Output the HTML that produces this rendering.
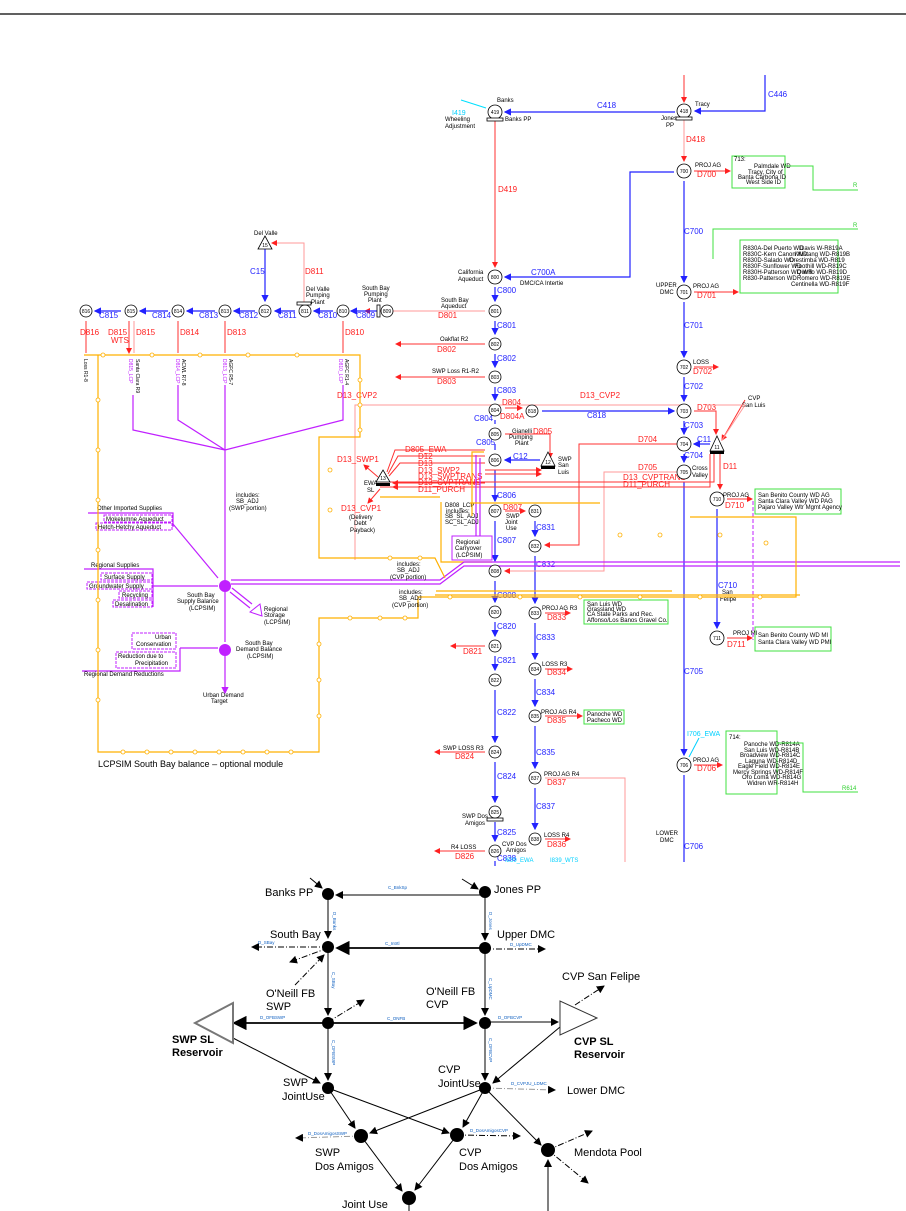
<!DOCTYPE html>
<html><head><meta charset="utf-8"><style>
body{margin:0;background:#fff}
svg{display:block;font-family:"Liberation Sans",sans-serif}
.b{stroke:#2222ff;fill:none;stroke-width:1.2}
.r{stroke:#ff3030;fill:none;stroke-width:1}
.p{stroke:#ff9a9a;fill:none;stroke-width:1}
.o{stroke:#ffb000;fill:none;stroke-width:1.2}
.m{stroke:#c020ff;fill:none;stroke-width:1.2}
.g{stroke:#40e040;fill:none;stroke-width:1}
.k{stroke:#000;fill:none;stroke-width:1.2}
.n{fill:#fff;stroke:#000;stroke-width:.8}
.nt{font-size:5px;text-anchor:middle}
.tb{fill:#2222ff;font-size:8px}
.tr{fill:#ff2020;font-size:8px}
.tk{fill:#000;font-size:6px}
.tg{fill:#30d030;font-size:5px}
.bl{fill:#1060c0;font-size:4.5px}
.big{fill:#000;font-size:11px}
</style></head><body>
<svg width="906" height="1211" viewBox="0 0 906 1211" xmlns="http://www.w3.org/2000/svg">
<defs>
<marker id="ab" markerWidth="6" markerHeight="6" refX="5" refY="3" orient="auto"><path d="M0,0L6,3L0,6z" fill="#2222ff"/></marker>
<marker id="ar" markerWidth="6" markerHeight="6" refX="5" refY="3" orient="auto"><path d="M0,0L6,3L0,6z" fill="#ff2020"/></marker>
<marker id="am" markerWidth="6" markerHeight="6" refX="5" refY="3" orient="auto"><path d="M0,0L6,3L0,6z" fill="#c020ff"/></marker>
<marker id="ak" markerWidth="8" markerHeight="8" refX="7" refY="4" orient="auto"><path d="M0,0L8,4L0,8z" fill="#000"/></marker>
</defs>
<line x1="0" y1="14" x2="906" y2="14" stroke="#000" stroke-width="1.2"/>

<!-- top section -->
<line class="r" x1="684" y1="75" x2="684" y2="102" marker-end="url(#ar)"/>
<path class="b" d="M765,75V111H695" marker-end="url(#ab)"/>
<text class="tb" x="768" y="97">C446</text>
<line class="b" x1="675" y1="112" x2="505" y2="112" marker-end="url(#ab)"/>
<text class="tb" x="597" y="108">C418</text>
<line x1="461" y1="100" x2="486" y2="108" stroke="#00e0ff"/>
<text x="452" y="115" fill="#00d0ff" font-size="7">I419</text>
<text class="tk" x="445" y="121">Wheeling</text><text class="tk" x="445" y="128">Adjustment</text>
<text class="tk" x="497" y="102">Banks</text><text class="tk" x="505" y="121">Banks PP</text>
<text class="tk" x="695" y="106">Tracy</text><text class="tk" x="661" y="120">Jones</text><text class="tk" x="666" y="127">PP</text>
<line class="r" x1="495" y1="120" x2="495" y2="267" marker-end="url(#ar)"/>
<text class="tr" x="498" y="192">D419</text>
<line class="p" x1="684" y1="120" x2="684" y2="161" marker-end="url(#ar)"/>
<text class="tr" x="686" y="142" font-size="6">D418</text>
<path class="b" d="M674,172H630V277H505" marker-end="url(#ab)"/>
<text class="tb" x="531" y="275">C700A</text>
<text class="tk" x="520" y="285">DMC/CA Intertie</text>
<text class="tk" x="458" y="274">California</text><text class="tk" x="458" y="281">Aqueduct</text>
<!-- main DMC -->
<line class="b" x1="684" y1="181" x2="684" y2="282" marker-end="url(#ab)"/>
<text class="tb" x="684" y="234">C700</text>
<line class="b" x1="684" y1="302" x2="684" y2="357" marker-end="url(#ab)"/>
<text class="tb" x="684" y="328">C701</text>
<line class="b" x1="684" y1="377" x2="684" y2="401" marker-end="url(#ab)"/>
<text class="tb" x="684" y="389">C702</text>
<line class="b" x1="684" y1="421" x2="684" y2="434" marker-end="url(#ab)"/>
<text class="tb" x="684" y="428">C703</text>
<line class="b" x1="684" y1="454" x2="684" y2="462" marker-end="url(#ab)"/>
<text class="tb" x="684" y="458">C704</text>
<line class="b" x1="684" y1="482" x2="684" y2="755" marker-end="url(#ab)"/>
<text class="tb" x="684" y="674">C705</text>
<line class="b" x1="684" y1="775" x2="684" y2="862"/>
<text class="tb" x="684" y="849">C706</text>
<text class="tk" x="656" y="835">LOWER</text><text class="tk" x="660" y="842">DMC</text>
<line class="r" x1="694" y1="171" x2="730" y2="171" marker-end="url(#ar)"/>
<text class="tk" x="695" y="167">PROJ AG</text><text class="tr" x="697" y="177">D700</text>
<line class="r" x1="694" y1="292" x2="738" y2="292" marker-end="url(#ar)"/>
<text class="tk" x="693" y="288">PROJ AG</text><text class="tr" x="697" y="298">D701</text>
<text class="tk" x="656" y="287">UPPER</text><text class="tk" x="660" y="294">DMC</text>
<line class="r" x1="694" y1="367" x2="718" y2="367" marker-end="url(#ar)"/>
<text class="tk" x="693" y="364">LOSS</text><text class="tr" x="693" y="374">D702</text>
<!-- green boxes -->
<rect class="g" x="732" y="156" width="53" height="32"/>
<text class="tk" x="734" y="161">713:</text>
<text class="tk" x="754" y="168" font-size="4.5">Palmdale WD</text><text class="tk" x="748" y="174" font-size="4.5">Tracy, City of</text><text class="tk" x="738" y="179" font-size="4.5">Banta Carbona ID</text><text class="tk" x="746" y="184" font-size="4.5">West Side ID</text>
<path class="g" d="M785,166H813V190H858"/><text x="853" y="187" fill="#30d030" font-size="6">R</text>
<path class="g" d="M713,259V229H858"/><text x="853" y="227" fill="#30d030" font-size="6">R</text>
<rect class="g" x="740" y="240" width="98" height="53"/>
<text class="tk" x="743" y="250" font-size="4.5">R830A-Del Puerto WD</text><text class="tk" x="743" y="256" font-size="4.5">R830C-Kern Canon WD</text><text class="tk" x="743" y="262" font-size="4.5">R830D-Salado WD</text><text class="tk" x="743" y="268" font-size="4.5">R830F-Sunflower WD</text><text class="tk" x="743" y="274" font-size="4.5">R830H-Patterson WD WR</text><text class="tk" x="743" y="280" font-size="4.5">R830-Patterson WD</text>
<text class="tk" x="800" y="250" font-size="4.5">Davis W-R819A</text><text class="tk" x="795" y="256" font-size="4.5">Mustang WD-R819B</text><text class="tk" x="789" y="262" font-size="4.5">Orestimba WD-R819</text><text class="tk" x="795" y="268" font-size="4.5">Foothill WD-R819C</text><text class="tk" x="797" y="274" font-size="4.5">Quinto WD-R819D</text><text class="tk" x="797" y="280" font-size="4.5">Romero WD-R819E</text><text class="tk" x="791" y="286" font-size="4.5">Centinella WD-R819F</text>
<rect class="g" x="755" y="489" width="86" height="25"/>
<text class="tk" x="758" y="497" font-size="4.5">San Benito County WD AG</text><text class="tk" x="758" y="503" font-size="4.5">Santa Clara Valley WD PAG</text><text class="tk" x="758" y="509" font-size="4.5">Pajaro Valley Wtr Mgmt Agency</text>
<rect class="g" x="755" y="627" width="76" height="24"/>
<text class="tk" x="758" y="637" font-size="4.5">San Benito County WD MI</text><text class="tk" x="758" y="644" font-size="4.5">Santa Clara Valley WD PMI</text>
<rect class="g" x="726" y="731" width="51" height="63"/>
<text class="tk" x="729" y="739">714:</text>
<text class="tk" x="744" y="746" font-size="4.5">Panoche WD-R814A</text><text class="tk" x="744" y="752" font-size="4.5">San Luis WD-R814B</text><text class="tk" x="740" y="757" font-size="4.5">Broadview WD-R814C</text><text class="tk" x="745" y="763" font-size="4.5">Laguna WD-R814D</text><text class="tk" x="738" y="768" font-size="4.5">Eagle Field WD-R814E</text><text class="tk" x="733" y="774" font-size="4.5">Mercy Springs WD-R814F</text><text class="tk" x="742" y="779" font-size="4.5">Oro Loma WD-R814G</text><text class="tk" x="747" y="785" font-size="4.5">Widren WR-R814H</text>
<path class="g" d="M777,743H803V792H858"/><text x="842" y="790" fill="#30d030" font-size="6">R614</text>
<line class="r" x1="694" y1="765" x2="722" y2="765" marker-end="url(#ar)"/>
<text class="tk" x="693" y="762">PROJ AG</text><text class="tr" x="697" y="771">D706</text>
<line x1="699" y1="738" x2="689" y2="757" stroke="#00d0ff"/><text x="687" y="736" fill="#00d0ff" font-size="7">I706_EWA</text>
<!-- CVP San Luis -->
<path d="M717,436L724,451H710z" fill="#fff" stroke="#000" stroke-width=".8"/><text class="nt" x="717" y="449">11</text>
<rect x="710" y="451" width="14" height="3" fill="#000"/>
<line class="b" x1="710" y1="444" x2="694" y2="444" marker-end="url(#ab)"/><text class="tb" x="697" y="442">C11</text>
<path class="r" d="M694,411H716V434" marker-end="url(#ar)"/><text class="tr" x="697" y="410">D703</text>
<line class="r" x1="745" y1="400" x2="722" y2="440" marker-end="url(#ar)"/>
<text class="tk" x="748" y="400">CVP</text><text class="tk" x="742" y="407">San Luis</text>
<path class="r" d="M720,454V489" marker-end="url(#ar)"/><text class="tr" x="723" y="469">D11</text>
<line class="b" x1="717" y1="509" x2="717" y2="628" marker-end="url(#ab)"/>
<text class="tb" x="718" y="588">C710</text><text class="tk" x="722" y="594">San</text><text class="tk" x="720" y="601">Felipe</text>
<line class="r" x1="727" y1="499" x2="752" y2="499" marker-end="url(#ar)"/><text class="tk" x="723" y="497">PROJ AG</text><text class="tr" x="725" y="508">D710</text>
<line class="r" x1="727" y1="638" x2="752" y2="638" marker-end="url(#ar)"/><text class="tk" x="733" y="635">PROJ MI</text><text class="tr" x="727" y="647">D711</text>
<path d="M753,501V640" stroke="#c020ff" stroke-dasharray="4,2" fill="none"/>
<text class="tk" x="692" y="470">Cross</text><text class="tk" x="692" y="477">Valley</text>
<!-- CA aqueduct -->
<line class="b" x1="495" y1="287" x2="495" y2="301" marker-end="url(#ab)"/><text class="tb" x="497" y="293">C800</text>
<line class="b" x1="495" y1="321" x2="495" y2="334" marker-end="url(#ab)"/><text class="tb" x="497" y="328">C801</text>
<line class="b" x1="495" y1="354" x2="495" y2="367" marker-end="url(#ab)"/><text class="tb" x="497" y="361">C802</text>
<line class="b" x1="495" y1="387" x2="495" y2="400" marker-end="url(#ab)"/><text class="tb" x="497" y="393">C803</text>
<line class="b" x1="495" y1="420" x2="495" y2="424" /><text class="tb" x="474" y="421">C804</text>
<line class="b" x1="495" y1="444" x2="495" y2="450" /><text class="tb" x="476" y="445">C805</text>
<line class="b" x1="495" y1="470" x2="495" y2="501" marker-end="url(#ab)"/><text class="tb" x="497" y="498">C806</text>
<line class="b" x1="495" y1="521" x2="495" y2="561" marker-end="url(#ab)"/><text class="tb" x="497" y="543">C807</text>
<line class="b" x1="495" y1="581" x2="495" y2="602" marker-end="url(#ab)"/><text class="tb" x="497" y="598">C808</text>
<line class="b" x1="495" y1="622" x2="495" y2="636" marker-end="url(#ab)"/><text class="tb" x="497" y="629">C820</text>
<line class="b" x1="495" y1="656" x2="495" y2="670" marker-end="url(#ab)"/><text class="tb" x="497" y="663">C821</text>
<line class="b" x1="495" y1="690" x2="495" y2="742" marker-end="url(#ab)"/><text class="tb" x="497" y="715">C822</text>
<line class="b" x1="495" y1="762" x2="495" y2="802" marker-end="url(#ab)"/><text class="tb" x="497" y="779">C824</text>
<line class="b" x1="495" y1="822" x2="495" y2="841" marker-end="url(#ab)"/><text class="tb" x="497" y="835">C825</text>
<line class="b" x1="495" y1="861" x2="495" y2="866"/><text class="tb" x="497" y="861">C838</text>
<line class="b" x1="535" y1="521" x2="535" y2="536" marker-end="url(#ab)"/><text class="tb" x="536" y="530">C831</text>
<line class="b" x1="535" y1="556" x2="535" y2="603" marker-end="url(#ab)"/><text class="tb" x="536" y="567">C832</text>
<line class="b" x1="535" y1="623" x2="535" y2="659" marker-end="url(#ab)"/><text class="tb" x="536" y="640">C833</text>
<line class="b" x1="535" y1="679" x2="535" y2="706" marker-end="url(#ab)"/><text class="tb" x="536" y="695">C834</text>
<line class="b" x1="535" y1="726" x2="535" y2="768" marker-end="url(#ab)"/><text class="tb" x="536" y="755">C835</text>
<line class="b" x1="535" y1="788" x2="535" y2="829" marker-end="url(#ab)"/><text class="tb" x="536" y="809">C837</text>
<line class="b" x1="542" y1="411" x2="674" y2="411" marker-end="url(#ab)"/><text class="tb" x="587" y="418">C818</text>
<line class="r" x1="505" y1="511" x2="525" y2="511" marker-end="url(#ar)"/><text class="tr" x="503" y="510">D807</text>
<text class="tk" x="506" y="518">SWP</text><text class="tk" x="505" y="524" font-size="5">Joint</text><text class="tk" x="506" y="530">Use</text>
<!-- red demands left -->
<path class="p" d="M485,311H365" marker-end="url(#ar)"/><text class="tr" x="438" y="318">D801</text>
<text class="tk" x="441" y="302">South Bay</text><text class="tk" x="441" y="308">Aqueduct</text>
<line class="r" x1="485" y1="344" x2="396" y2="344" marker-end="url(#ar)"/><text class="tk" x="440" y="341">Oakflat R2</text><text class="tr" x="437" y="352">D802</text>
<line class="r" x1="485" y1="377" x2="396" y2="377" marker-end="url(#ar)"/><text class="tk" x="432" y="373">SWP Loss R1-R2</text><text class="tr" x="437" y="384">D803</text>
<line class="r" x1="485" y1="646" x2="451" y2="646" marker-end="url(#ar)"/><text class="tr" x="463" y="654">D821</text>
<line class="r" x1="485" y1="752" x2="435" y2="752" marker-end="url(#ar)"/><text class="tk" x="443" y="750">SWP LOSS R3</text><text class="tr" x="455" y="759">D824</text>
<line class="r" x1="485" y1="851" x2="435" y2="851" marker-end="url(#ar)"/><text class="tk" x="451" y="849">R4 LOSS</text><text class="tr" x="455" y="859">D826</text>
<line class="r" x1="545" y1="613" x2="570" y2="613" marker-end="url(#ar)"/><text class="tk" x="542" y="610">PROJ AG R3</text><text class="tr" x="547" y="620">D833</text>
<rect class="g" x="584" y="600" width="84" height="24"/><text class="tk" x="587" y="606" font-size="4.5">San Luis WD</text><text class="tk" x="587" y="611" font-size="4">Grassland WD</text><text class="tk" x="587" y="616" font-size="4.5">CA State Parks and Rec.</text><text class="tk" x="587" y="622" font-size="4.5">Affonso/Los Banos Gravel Co.</text>
<line class="r" x1="545" y1="669" x2="572" y2="669" marker-end="url(#ar)"/><text class="tk" x="542" y="666">LOSS R3</text><text class="tr" x="547" y="675">D834</text>
<line class="r" x1="545" y1="716" x2="582" y2="716" marker-end="url(#ar)"/><text class="tk" x="541" y="714">PROJ AG R4</text><text class="tr" x="547" y="723">D835</text>
<rect class="g" x="584" y="710" width="40" height="14"/><text class="tk" x="587" y="716" font-size="4.5">Panoche WD</text><text class="tk" x="587" y="722" font-size="4.5">Pacheco WD</text>
<path class="p" d="M545,778H625V862"/><text class="tk" x="544" y="776">PROJ AG R4</text><text class="tr" x="547" y="785">D837</text>
<line class="r" x1="545" y1="839" x2="570" y2="839" marker-end="url(#ar)"/><text class="tk" x="544" y="837">LOSS R4</text><text class="tr" x="547" y="847">D836</text>
<text x="505" y="862" fill="#00d0ff" font-size="6">I839_EWA</text><text x="550" y="862" fill="#00d0ff" font-size="6">I839_WTS</text>
<text class="tk" x="462" y="818">SWP Dos</text><text class="tk" x="465" y="825">Amigos</text><rect x="487" y="818" width="16" height="3" class="n"/>
<text class="tk" x="502" y="846">CVP Dos</text><text class="tk" x="506" y="852">Amigos</text>
<!-- red cross lines -->
<path class="p" d="M684,405H355V560" /><text class="tr" x="337" y="398" font-size="7">D13_CVP2</text>
<text class="tr" x="580" y="398" font-size="7">D13_CVP2</text>
<path class="p" d="M705,405H745L722,440"/>
<line class="r" x1="505" y1="408" x2="522" y2="408" marker-end="url(#ar)"/><text class="tr" x="502" y="405">D804</text><text class="tr" x="500" y="419" font-size="6">D804A</text>
<path class="r" d="M684,444H579V545H545" marker-end="url(#ar)"/><text class="tr" x="638" y="442" font-size="7">D704</text>
<path class="p" d="M684,472H604V571H505" marker-end="url(#ar)"/><text class="tr" x="638" y="470" font-size="7">D705</text>
<path class="r" d="M714,454V482H380"/><path class="r" d="M710,454V487H380"/>
<text class="tr" x="623" y="480" font-size="6">D13_CVPTRANS</text><text class="tr" x="623" y="487" font-size="6">D11_PURCH</text>
<path class="r" d="M505,434H550V458" marker-end="url(#ar)"/><text class="tr" x="533" y="434" font-size="7">D805</text>
<text class="tk" x="512" y="433">Gianelli</text><text class="tk" x="509" y="439">Pumping</text><text class="tk" x="515" y="445">Plant</text>
<path d="M548,452L555,466H541z" class="n"/><text class="nt" x="548" y="464">12</text><rect x="541" y="466" width="14" height="3" fill="#000"/>
<line class="b" x1="540" y1="460" x2="505" y2="460" marker-end="url(#ab)"/><text class="tb" x="513" y="459">C12</text>
<text class="tk" x="558" y="461">SWP</text><text class="tk" x="558" y="467">San</text><text class="tk" x="558" y="474">Luis</text>
<!-- EWA SL -->
<path d="M383,470L390,482H376z" class="n"/><text class="nt" x="383" y="480">13</text><rect x="376" y="483" width="14" height="3" fill="#000"/>
<text class="tk" x="364" y="485">EWA</text><text class="tk" x="367" y="492">SL</text>
<path class="r" d="M485,450H395L387,472"/><path class="r" d="M485,456H398L388,474"/><path class="r" d="M485,463H400L389,476"/>
<path class="r" d="M485,470H541" marker-end="url(#ar)"/><path class="r" d="M485,474H541" marker-end="url(#ar)"/>
<path class="r" d="M485,483H393" marker-end="url(#ar)"/><path class="r" d="M485,487H393" marker-end="url(#ar)"/>
<text class="tr" x="405" y="452" font-size="5">D805_EWA</text><text class="tr" x="418" y="459" font-size="6">D12</text><text class="tr" x="418" y="466" font-size="6">D13</text><text class="tr" x="418" y="473" font-size="6">D13_SWP2</text><text class="tr" x="418" y="479" font-size="6">D13_SWPTRANS</text><text class="tr" x="418" y="485" font-size="6">D13_CVPTRANS</text><text class="tr" x="418" y="492" font-size="6">D11_PURCH</text>
<line class="r" x1="378" y1="477" x2="364" y2="465" marker-end="url(#ar)"/><text class="tr" x="337" y="462" font-size="7">D13_SWP1</text>
<line class="r" x1="380" y1="489" x2="368" y2="503" marker-end="url(#ar)"/><text class="tr" x="341" y="511" font-size="7">D13_CVP1</text>
<text class="tk" x="349" y="519">(Delivery</text><text class="tk" x="354" y="525" font-size="5">Debt</text><text class="tk" x="350" y="532">Payback)</text>
<!-- regional carryover box -->
<rect x="452" y="536" width="40" height="24" fill="none" stroke="#c020ff"/><text class="tk" x="456" y="544">Regional</text><text class="tk" x="455" y="550">Carryover</text><text class="tk" x="456" y="557">(LCPSIM)</text>
<path class="m" d="M476,455V536M480,458V536"/>
<text class="tk" x="445" y="507" font-size="5">D808_LCP</text><text class="tk" x="446" y="513" font-size="5">includes:</text><text class="tk" x="445" y="518" font-size="5">SB_SL_ADJ</text><text class="tk" x="445" y="524" font-size="5">SC_SL_ADJ</text>
<path class="o" d="M441,502V562H492M484,452H472V516"/>
<!-- South Bay row -->
<path class="b" d="M377,311H351" marker-end="url(#ab)"/><text class="tb" x="356" y="318">C809</text>
<path class="b" d="M333,311H314" marker-end="url(#ab)"/><text class="tb" x="318" y="318">C810</text>
<path class="b" d="M295,311H275" marker-end="url(#ab)"/><text class="tb" x="278" y="318">C811</text>
<path class="b" d="M255,311H234" marker-end="url(#ab)"/><text class="tb" x="239" y="318">C812</text>
<path class="b" d="M215,311H187" marker-end="url(#ab)"/><text class="tb" x="199" y="318">C813</text>
<path class="b" d="M168,311H140" marker-end="url(#ab)"/><text class="tb" x="152" y="318">C814</text>
<path class="b" d="M121,311H95" marker-end="url(#ab)"/><text class="tb" x="99" y="318">C815</text>
<path class="b" d="M265,249V301" marker-end="url(#ab)"/><text class="tb" x="250" y="274">C15</text>
<path d="M265,236L272,249H258z" class="n"/><text class="nt" x="265" y="247">15</text><text class="tk" x="254" y="235">Del Valle</text>
<path class="p" d="M304,304V243H272" marker-end="url(#ar)"/><text class="tr" x="305" y="274">D811</text>
<text class="tk" x="306" y="291">Del Valle</text><text class="tk" x="306" y="297">Pumping</text><text class="tk" x="311" y="304">Plant</text>
<text class="tk" x="362" y="290">South Bay</text><text class="tk" x="364" y="296">Pumping</text><text class="tk" x="368" y="302">Plant</text>
<rect x="377" y="305" width="3" height="12" class="n"/>
<path class="r" d="M343,321V353M225,321V353M178,321V353M86,321V353M129,321V353" marker-end="url(#ar)"/><path class="p" d="M134,321V353"/>
<text class="tr" x="345" y="335" font-size="6">D810</text><text class="tr" x="227" y="335" font-size="6">D813</text><text class="tr" x="180" y="335" font-size="6">D814</text><text class="tr" x="136" y="335" font-size="6">D815</text><text class="tr" x="108" y="335" font-size="6">D815</text><text class="tr" x="111" y="343" font-size="6">WTS</text><text class="tr" x="80" y="335" font-size="6">D816</text>
<g font-size="5" fill="#000"><text transform="translate(345,359) rotate(90)">AGFC R1-4</text><text transform="translate(229,359) rotate(90)">AGFC R5-7</text><text transform="translate(182,359) rotate(90)">ACWL R7-8</text><text transform="translate(136,359) rotate(90)">Santa Clara R9</text><text transform="translate(84,359) rotate(90)">Loss R1-8</text></g>
<g font-size="5" fill="#c020ff"><text transform="translate(339,359) rotate(90)">D810_LCP</text><text transform="translate(223,359) rotate(90)">D813_LCP</text><text transform="translate(176,359) rotate(90)">D814_LCP</text><text transform="translate(129,359) rotate(90)">D815_LCP</text></g>
<!-- purple LCPSIM -->
<path class="m" d="M343,385V420L225,450M178,385V420L225,450M133,395V430L225,450M225,385V580"/>
<text class="tk" x="236" y="497">includes:</text><text class="tk" x="236" y="503">SB_ADJ</text><text class="tk" x="229" y="510">(SWP portion)</text>
<circle cx="225" cy="586" r="6" fill="#c020ff"/><circle cx="225" cy="650" r="6" fill="#c020ff"/>
<path class="m" d="M225,592V642M225,656V693" marker-end="url(#am)"/>
<path class="m" d="M173,524L218,578M152,586H218M180,648H218" />
<path class="m" d="M231,580H440L464,562H900M231,584H440L464,566H900"/>
<path d="M250,612l10,-8l2,12z" fill="none" stroke="#c020ff"/><path class="m" d="M230,592L250,608M232,588L252,604"/>
<text class="tk" x="264" y="611">Regional</text><text class="tk" x="264" y="617">Storage</text><text class="tk" x="264" y="624">(LCPSIM)</text>
<text class="tk" x="187" y="597">South Bay</text><text class="tk" x="177" y="603">Supply Balance</text><text class="tk" x="189" y="610">(LCPSIM)</text>
<text class="tk" x="245" y="645">South Bay</text><text class="tk" x="236" y="651" font-size="5">Demand Balance</text><text class="tk" x="247" y="658">(LCPSIM)</text>
<text class="tk" x="203" y="697">Urban Demand</text><text class="tk" x="211" y="703">Target</text>
<text class="tk" x="97" y="510">Other Imported Supplies</text><path class="m" d="M88,513H173V527"/>
<rect x="104" y="515" width="68" height="7" fill="none" stroke="#c020ff" stroke-dasharray="3,1"/><text class="tk" x="106" y="521">Mokelumne Aqueduct</text>
<rect x="96" y="523" width="76" height="7" fill="none" stroke="#c020ff" stroke-dasharray="3,1"/><text class="tk" x="98" y="529">Hetch-Hetchy Aqueduct</text>
<text class="tk" x="91" y="567">Regional Supplies</text><path class="m" d="M84,569H153V607"/>
<rect x="101" y="573" width="51" height="7" fill="none" stroke="#c020ff" stroke-dasharray="3,1"/><text class="tk" x="104" y="579">Surface Supply</text>
<rect x="87" y="582" width="65" height="7" fill="none" stroke="#c020ff" stroke-dasharray="3,1"/><text class="tk" x="89" y="588">Groundwater Supply</text>
<rect x="119" y="591" width="33" height="7" fill="none" stroke="#c020ff" stroke-dasharray="3,1"/><text class="tk" x="122" y="597">Recycling</text>
<rect x="113" y="600" width="39" height="7" fill="none" stroke="#c020ff" stroke-dasharray="3,1"/><text class="tk" x="115" y="606">Desalination</text>
<rect x="132" y="633" width="44" height="16" fill="none" stroke="#c020ff" stroke-dasharray="3,1"/><text class="tk" x="155" y="639">Urban</text><text class="tk" x="136" y="646">Conservation</text>
<rect x="116" y="652" width="60" height="16" fill="none" stroke="#c020ff" stroke-dasharray="3,1"/><text class="tk" x="118" y="658">Reduction due to</text><text class="tk" x="135" y="665">Precipitation</text>
<path class="m" d="M82,671H180V648"/><text class="tk" x="84" y="676">Regional Demand Reductions</text>
<!-- orange dotted -->
<g stroke="#ffb000" fill="none" stroke-width="1.2">
<path d="M84,355H360V437H319V558H435L445,578M98,355V752H319V618H418V597H796V517H690M436,591H672M800,595H435"/>
<path d="M380,497H440M600,503H470"/>
</g>
<g fill="#fff" stroke="#ffb000" stroke-width=".8">
<circle cx="103" cy="355" r="2"/><circle cx="152" cy="355" r="2"/><circle cx="200" cy="355" r="2"/><circle cx="248" cy="355" r="2"/><circle cx="297" cy="355" r="2"/><circle cx="360" cy="380" r="2"/><circle cx="360" cy="405" r="2"/><circle cx="360" cy="430" r="2"/>
<circle cx="98" cy="400" r="2"/><circle cx="98" cy="450" r="2"/><circle cx="98" cy="500" r="2"/><circle cx="98" cy="550" r="2"/><circle cx="98" cy="600" r="2"/><circle cx="98" cy="650" r="2"/><circle cx="98" cy="700" r="2"/>
<circle cx="123" cy="752" r="2"/><circle cx="147" cy="752" r="2"/><circle cx="171" cy="752" r="2"/><circle cx="195" cy="752" r="2"/><circle cx="219" cy="752" r="2"/><circle cx="243" cy="752" r="2"/><circle cx="267" cy="752" r="2"/><circle cx="291" cy="752" r="2"/>
<circle cx="319" cy="644" r="2"/><circle cx="319" cy="680" r="2"/><circle cx="319" cy="716" r="2"/><circle cx="350" cy="618" r="2"/><circle cx="380" cy="618" r="2"/><circle cx="405" cy="618" r="2"/>
<circle cx="450" cy="597" r="2"/><circle cx="520" cy="597" r="2"/><circle cx="580" cy="597" r="2"/><circle cx="640" cy="597" r="2"/><circle cx="700" cy="597" r="2"/><circle cx="760" cy="597" r="2"/>
<circle cx="620" cy="535" r="2"/><circle cx="660" cy="535" r="2"/><circle cx="720" cy="535" r="2"/><circle cx="766" cy="543" r="2"/>
<circle cx="330" cy="470" r="2"/><circle cx="330" cy="510" r="2"/><circle cx="390" cy="558" r="2"/><circle cx="420" cy="558" r="2"/>
</g>
<text class="tk" x="397" y="566">includes:</text><text class="tk" x="397" y="572">SB_ADJ</text><text class="tk" x="390" y="579">(CVP portion)</text>
<text class="tk" x="399" y="594">includes:</text><text class="tk" x="399" y="600">SB_ADJ</text><text class="tk" x="392" y="607">(CVP portion)</text>
<text x="98" y="767" font-size="9" fill="#000">LCPSIM South Bay balance – optional module</text>
<!-- nodes -->
<g>
<g class="n">
<circle cx="495" cy="112" r="7"/><circle cx="684" cy="111" r="7"/><circle cx="684" cy="171" r="7"/><circle cx="495" cy="277" r="7"/><circle cx="684" cy="292" r="7"/><circle cx="684" cy="367" r="7"/><circle cx="684" cy="411" r="7"/><circle cx="684" cy="444" r="7"/><circle cx="684" cy="472" r="7"/><circle cx="717" cy="499" r="7"/><circle cx="717" cy="638" r="7"/><circle cx="684" cy="765" r="7"/>
<circle cx="495" cy="311" r="6"/><circle cx="495" cy="344" r="6"/><circle cx="495" cy="377" r="6"/><circle cx="495" cy="410" r="6"/><circle cx="495" cy="434" r="6"/><circle cx="495" cy="460" r="6"/><circle cx="495" cy="511" r="6"/><circle cx="495" cy="571" r="6"/><circle cx="495" cy="612" r="6"/><circle cx="495" cy="646" r="6"/><circle cx="495" cy="680" r="6"/><circle cx="495" cy="752" r="6"/><circle cx="495" cy="812" r="6"/><circle cx="495" cy="851" r="6"/>
<circle cx="532" cy="411" r="6"/><circle cx="535" cy="511" r="6"/><circle cx="535" cy="546" r="6"/><circle cx="535" cy="613" r="6"/><circle cx="535" cy="669" r="6"/><circle cx="535" cy="716" r="6"/><circle cx="535" cy="778" r="6"/><circle cx="535" cy="839" r="6"/>
<circle cx="86" cy="311" r="6"/><circle cx="131" cy="311" r="6"/><circle cx="178" cy="311" r="6"/><circle cx="225" cy="311" r="6"/><circle cx="265" cy="311" r="6"/><circle cx="305" cy="311" r="6"/><circle cx="343" cy="311" r="6"/><circle cx="387" cy="311" r="6"/>
</g>
<g class="nt">
<text x="495" y="114">419</text><text x="684" y="113">418</text><text x="684" y="173">700</text><text x="495" y="279">800</text><text x="684" y="294">701</text><text x="684" y="369">702</text><text x="684" y="413">703</text><text x="684" y="446">704</text><text x="684" y="474">705</text><text x="717" y="501">710</text><text x="717" y="640">711</text><text x="684" y="767">706</text>
<text x="495" y="313">801</text><text x="495" y="346">802</text><text x="495" y="379">803</text><text x="495" y="412">804</text><text x="495" y="436">805</text><text x="495" y="462">806</text><text x="495" y="513">807</text><text x="495" y="573">808</text><text x="495" y="614">820</text><text x="495" y="648">821</text><text x="495" y="682">822</text><text x="495" y="754">824</text><text x="495" y="814">825</text><text x="495" y="853">826</text>
<text x="532" y="413">818</text><text x="535" y="513">831</text><text x="535" y="548">832</text><text x="535" y="615">833</text><text x="535" y="671">834</text><text x="535" y="718">835</text><text x="535" y="780">837</text><text x="535" y="841">838</text>
<text x="86" y="313">816</text><text x="131" y="313">815</text><text x="178" y="313">814</text><text x="225" y="313">813</text><text x="265" y="313">812</text><text x="305" y="313">811</text><text x="343" y="313">810</text><text x="387" y="313">809</text>
</g>
<rect x="487" y="118" width="16" height="3" class="n"/><rect x="676" y="117" width="16" height="3" class="n"/><rect x="297" y="302" width="14" height="3" class="n"/>
</g>

<!-- bottom schematic -->
<g stroke="#000" fill="none" stroke-width="1">
<line x1="485" y1="895" x2="336" y2="895" marker-end="url(#ak)"/>
<line x1="328" y1="898" x2="328" y2="938" marker-end="url(#ak)"/>
<line x1="485" y1="895" x2="485" y2="940" marker-end="url(#ak)"/>
<line x1="485" y1="948" x2="337" y2="948" stroke-width="1.8" marker-end="url(#ak)"/>
<line x1="485" y1="949" x2="545" y2="949" stroke-dasharray="6,2,1,2" marker-end="url(#ak)"/>
<line x1="328" y1="947" x2="252" y2="947" stroke-dasharray="6,2,1,2" marker-end="url(#ak)"/>
<line x1="328" y1="948" x2="290" y2="962" stroke-dasharray="6,2,1,2" marker-end="url(#ak)"/>
<line x1="295" y1="985" x2="324" y2="955" stroke-dasharray="6,2,1,2" marker-end="url(#ak)"/>
<line x1="328" y1="950" x2="328" y2="1015" marker-end="url(#ak)"/>
<line x1="485" y1="950" x2="485" y2="1015" marker-end="url(#ak)"/>
<line x1="328" y1="1023" x2="476" y2="1023" stroke-width="1.8" marker-end="url(#ak)"/>
<line x1="328" y1="1023" x2="234" y2="1023" stroke-width="1.8" marker-end="url(#ak)"/>
<line x1="328" y1="1022" x2="364" y2="1000" stroke-dasharray="6,2,1,2" marker-end="url(#ak)"/>
<line x1="485" y1="1022" x2="558" y2="1022" marker-end="url(#ak)"/>
<line x1="575" y1="1005" x2="604" y2="986" stroke-dasharray="6,2,1,2" marker-end="url(#ak)"/>
<line x1="328" y1="1025" x2="328" y2="1080" marker-end="url(#ak)"/>
<line x1="485" y1="1025" x2="485" y2="1080" marker-end="url(#ak)"/>
<line x1="233" y1="1038" x2="320" y2="1083" marker-end="url(#ak)"/>
<line x1="560" y1="1027" x2="493" y2="1083" marker-end="url(#ak)"/>
<line x1="485" y1="1088" x2="555" y2="1090" stroke-dasharray="6,2,1,2" stroke="#999" marker-end="url(#ak)"/>
<line x1="328" y1="1088" x2="355" y2="1128" marker-end="url(#ak)"/>
<line x1="328" y1="1088" x2="449" y2="1133" marker-end="url(#ak)"/>
<line x1="485" y1="1088" x2="370" y2="1133" marker-end="url(#ak)"/>
<line x1="485" y1="1088" x2="463" y2="1127" marker-end="url(#ak)"/>
<line x1="485" y1="1088" x2="541" y2="1145" marker-end="url(#ak)"/>
<line x1="361" y1="1136" x2="296" y2="1138" stroke-dasharray="6,2,1,2" stroke="#999" marker-end="url(#ak)"/>
<line x1="457" y1="1135" x2="520" y2="1136" stroke-dasharray="6,2,1,2" marker-end="url(#ak)"/>
<line x1="361" y1="1136" x2="402" y2="1191" marker-end="url(#ak)"/>
<line x1="457" y1="1135" x2="415" y2="1190" marker-end="url(#ak)"/>
<line x1="548" y1="1150" x2="592" y2="1131" stroke-dasharray="6,2,1,2" marker-end="url(#ak)"/>
<line x1="548" y1="1150" x2="588" y2="1183" stroke-dasharray="6,2,1,2" marker-end="url(#ak)"/>
<line x1="548" y1="1211" x2="548" y2="1160" marker-end="url(#ak)"/>
<line x1="409" y1="1204" x2="409" y2="1211"/>
<line x1="310" y1="878" x2="322" y2="888" marker-end="url(#ak)"/>
<line x1="462" y1="879" x2="478" y2="889" marker-end="url(#ak)"/>
</g>
<path d="M233,1003L233,1043L195,1023Z" fill="#fff" stroke="#777" stroke-width="2"/>
<path d="M560,1001L560,1035L597,1018Z" fill="#fff" stroke="#333" stroke-width="1"/>
<g fill="#000"><circle cx="328" cy="894" r="6"/><circle cx="485" cy="892" r="6"/><circle cx="328" cy="947" r="6"/><circle cx="485" cy="948" r="6"/><circle cx="328" cy="1023" r="6"/><circle cx="485" cy="1023" r="6"/><circle cx="328" cy="1088" r="6"/><circle cx="485" cy="1088" r="6"/><circle cx="361" cy="1136" r="7"/><circle cx="457" cy="1135" r="7"/><circle cx="548" cy="1150" r="7"/><circle cx="409" cy="1198" r="7"/></g>
<text class="big" x="265" y="896">Banks PP</text><text class="big" x="494" y="893">Jones PP</text>
<text class="big" x="270" y="938">South Bay</text><text class="big" x="497" y="938">Upper DMC</text>
<text class="big" x="266" y="997">O'Neill FB</text><text class="big" x="266" y="1010">SWP</text>
<text class="big" x="426" y="995">O'Neill FB</text><text class="big" x="426" y="1008">CVP</text>
<text class="big" x="562" y="980">CVP San Felipe</text>
<text class="big" x="172" y="1043" font-weight="bold">SWP SL</text><text class="big" x="172" y="1056" font-weight="bold">Reservoir</text>
<text class="big" x="574" y="1045" font-weight="bold">CVP SL</text><text class="big" x="574" y="1058" font-weight="bold">Reservoir</text>
<text class="big" x="283" y="1086">SWP</text><text class="big" x="282" y="1100">JointUse</text>
<text class="big" x="438" y="1073">CVP</text><text class="big" x="438" y="1087">JointUse</text>
<text class="big" x="567" y="1094">Lower DMC</text>
<text class="big" x="315" y="1156">SWP</text><text class="big" x="315" y="1170">Dos Amigos</text>
<text class="big" x="459" y="1156">CVP</text><text class="big" x="459" y="1170">Dos Amigos</text>
<text class="big" x="574" y="1156">Mendota Pool</text>
<text class="big" x="342" y="1208">Joint Use</text>
<text class="bl" x="388" y="889">C_BnkSp</text><text class="bl" x="385" y="945">C_Intrtl</text><text class="bl" x="387" y="1020">C_ONFB</text>
<text class="bl" x="258" y="944">D_SBay</text><text class="bl" x="510" y="946">D_UpDMC</text><text class="bl" x="260" y="1019">D_OFBSWP</text><text class="bl" x="498" y="1019">D_OFBCVP</text>
<text class="bl" x="511" y="1085">D_CVPJU_LDMC</text><text class="bl" x="308" y="1135">D_DosAmigosSWP</text><text class="bl" x="470" y="1132">D_DosAmigosCVP</text>
<text class="bl" transform="translate(333,912) rotate(90)">D_Banks</text><text class="bl" transform="translate(489,912) rotate(90)">D_Jones</text>
<text class="bl" transform="translate(332,972) rotate(90)">C_SBay</text><text class="bl" transform="translate(489,978) rotate(90)">C_UpDMC</text>
<text class="bl" transform="translate(332,1040) rotate(90)">C_OFBSWP</text><text class="bl" transform="translate(489,1038) rotate(90)">C_OFBCVP</text>
</svg>
</body></html>
